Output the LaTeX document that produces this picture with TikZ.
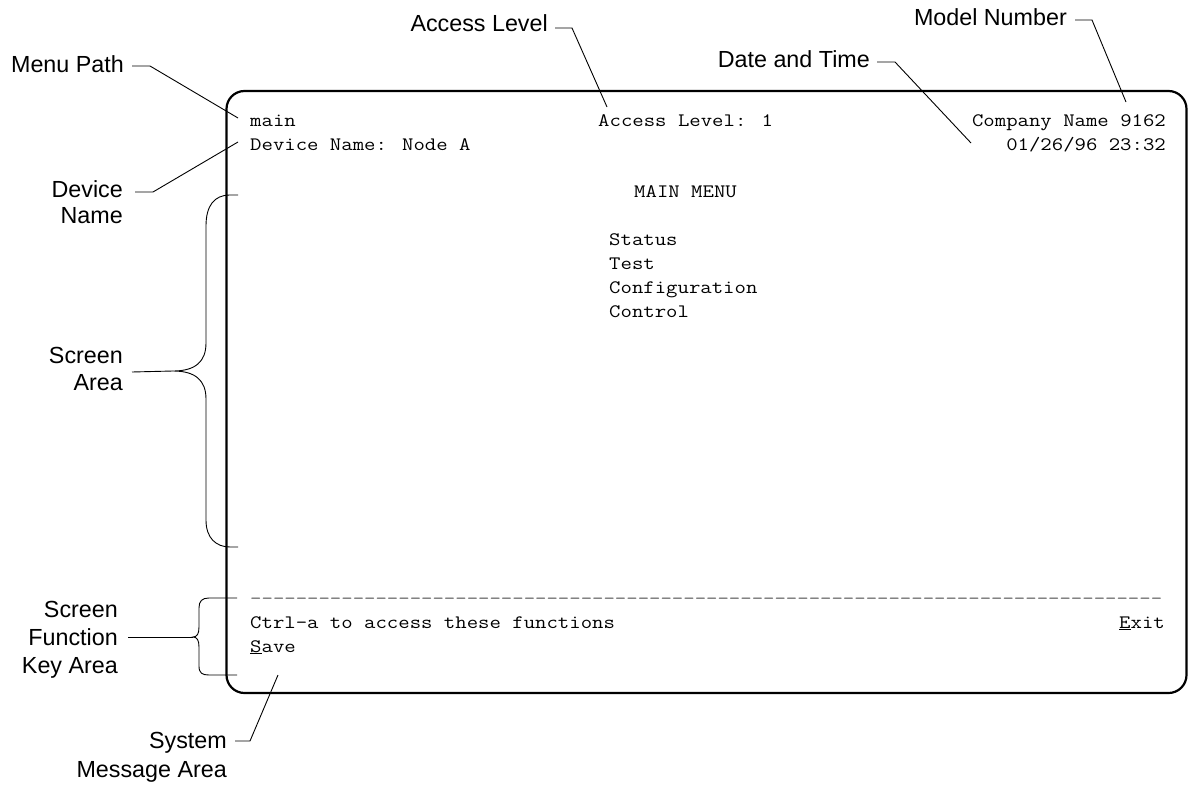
\documentclass[tikz,border=0pt]{standalone}
\usepackage{fontspec}
\setmainfont{Liberation Sans}
\newfontfamily\monof{Latin Modern Mono}[FakeStretch=1.165]
\begin{document}
\begin{tikzpicture}[x=1pt,y=-1pt,
  lbl/.style={font=\fontsize{23.3}{27}\selectfont, inner sep=0pt, anchor=base east},
  scr/.style={font=\monof\fontsize{19}{24}\selectfont, inner sep=0pt, anchor=base west},
  scrr/.style={font=\monof\fontsize{19}{24}\selectfont, inner sep=0pt, anchor=base east},
  leader/.style={line width=0.9pt, line join=round},
  brace/.style={line width=0.9pt}]
\useasboundingbox (0,0) rectangle (1188,784);
\fill[white] (0,0) rectangle (1188,784);

% screen frame
\draw[line width=2.2pt, rounded corners=18pt] (226.5,91) rectangle (1186.5,693);

% screen texts
\node[scr] (path) at (250,126) {main};
\node[scr] (dev) at (250,150) {Device Name: Node A};
\node[scr] (acc) at (598,126) {Access Level: 1};
\node[scrr] (model) at (1166,126) {Company Name 9162};
\node[scrr] (date) at (1166,150) {01/26/96 23:32};
\node[scr] (mm) at (634,197) {MAIN MENU};
\node[scr] (m1) at (609,245) {Status};
\node[scr] (m2) at (609,269) {Test};
\node[scr] (m3) at (609,293) {Configuration};
\node[scr] (m4) at (609,317) {Control};
\node[scr, text=black!60] (dashes) at (250,604) {--------------------------------------------------------------------------------};
\node[scr] (ctrl) at (250,628) {Ctrl-a to access these functions};
\node[scrr] (exit) at (1165,628) {\underline{E}xit};
\node[scr] (save) at (250,652) {\underline{S}ave};

% labels
\node[lbl] (lmenu) at (124,72) {Menu Path};
\node[lbl] (ldev1) at (123,197) {Device};
\node[lbl] (ldev2) at (123,223) {Name};
\node[lbl] (lscr1) at (123,363) {Screen};
\node[lbl] (lscr2) at (123,390) {Area};
\node[lbl] (lkey1) at (118,617) {Screen};
\node[lbl] (lkey2) at (118,645) {Function};
\node[lbl] (lkey3) at (118,673) {Key Area};
\node[lbl] (lsys1) at (227,748) {System};
\node[lbl] (lsys2) at (227,777) {Message Area};
\node[lbl] (lacc) at (548,32) {Access Level};
\node[lbl] (ldate) at (870,67) {Date and Time};
\node[lbl] (lmod) at (1067,26) {Model Number};

% leader coordinates
\coordinate (pMenu) at (238,118);
\coordinate (pDev) at (238,142);
\coordinate (pAcc) at (607,107);
\coordinate (pDate) at (971,143);
\coordinate (pMod) at (1126,102);
\coordinate (pSys) at (278,675);
\coordinate (tipS) at (173,371);
\coordinate (tipK) at (193,637);

% leaders
\draw[leader] (132,66) -- (150,66) -- (pMenu);
\draw[leader] (135,192) -- (153,192) -- (pDev);
\draw[leader] (555,28) -- (572,28) -- (pAcc);
\draw[leader] (877,62) -- (895,62) -- (pDate);
\draw[leader] (1075,20) -- (1092,20) -- (pMod);
\draw[leader] (235,741) -- (250,741) -- (pSys);
\draw[leader] (132,372) -- (tipS);
\draw[leader] (128,637) -- (tipK);

% screen area brace
\draw[brace] (238,195) -- (230,195) .. controls (214,195) and (206,206) .. (206,226)
  -- (206,343) .. controls (206,362) and (195,371) .. (tipS)
  .. controls (195,371) and (206,380) .. (206,399)
  -- (206,520) .. controls (206,538) and (216,547) .. (230,547) -- (238,547);

% function key brace
\draw[brace] (237,598) -- (209,598) .. controls (202,598) and (199,601) .. (199,608)
  -- (199,627) .. controls (199,634) and (197,637) .. (tipK)
  .. controls (197,637) and (199,640) .. (199,647)
  -- (199,666) .. controls (199,673) and (202,675) .. (209,675) -- (237,675);
\end{tikzpicture}
\end{document}
